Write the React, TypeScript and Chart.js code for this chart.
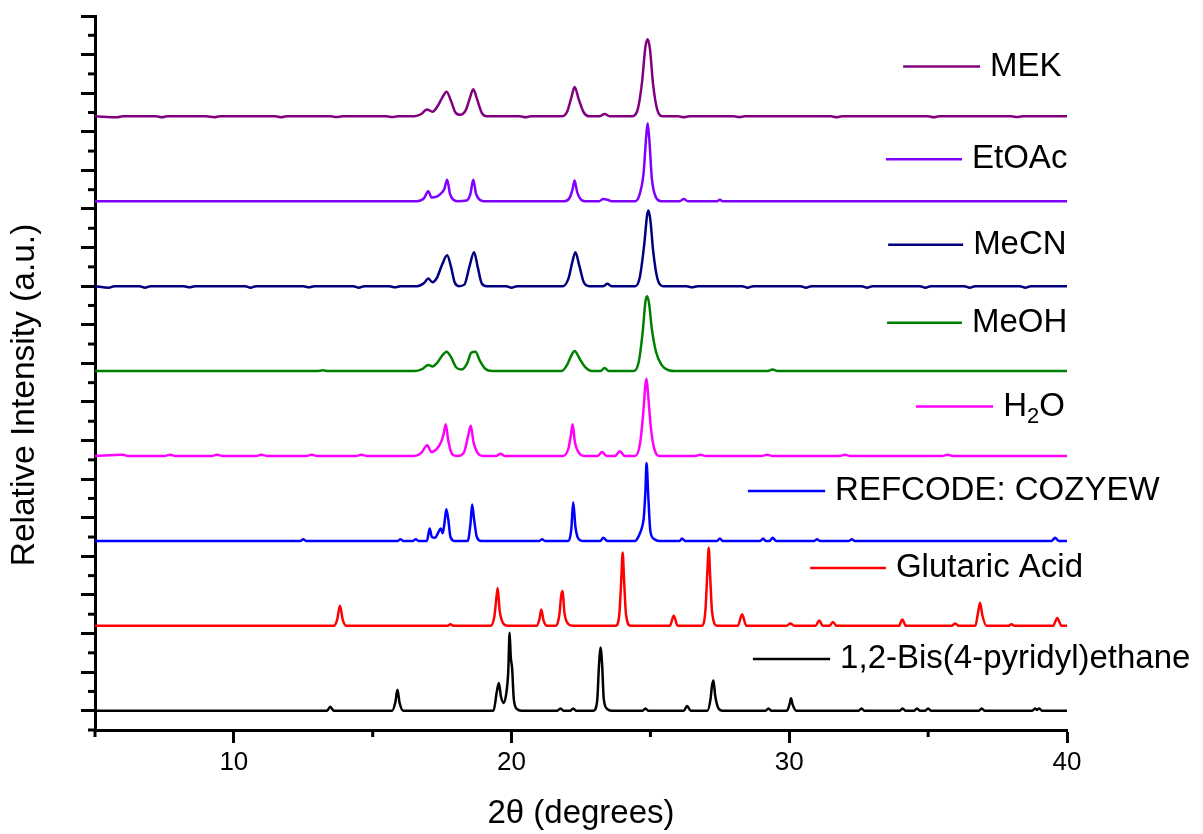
import React, { useEffect, useRef } from 'react';
import { Chart, registerables } from 'chart.js';

Chart.register(...registerables);

// ---------- DATA ----------
const seriesNames = [
  'MEK',
  'EtOAc',
  'MeCN',
  'MeOH',
  'H2O',
  'REFCODE: COZYEW',
  'Glutaric Acid',
  '1,2-Bis(4-pyridyl)ethane',
];
const seriesColors = ['#800080', '#8000FF', '#000080', '#008000', '#FF00FF', '#0000FF', '#FF0000', '#000000'];
// vertical stacking offset of each pattern (axis units)
const stackOffsets = [15.4, 13.2, 11.0, 8.8, 6.6, 4.4, 2.2, 0];
// relative intensity (%) -> axis units
const intensityScale = 0.02;

const xMajorTicks = [10, 20, 30, 40];
const xMinorTicks = [5, 15, 25, 35];
const yMajorTicks = [0, 1, 2, 3, 4, 5, 6, 7, 8, 9, 10, 11, 12, 13, 14, 15, 16, 17, 18];
const yMinorTicks = [-0.5, 0.5, 1.5, 2.5, 3.5, 4.5, 5.5, 6.5, 7.5, 8.5, 9.5, 10.5, 11.5, 12.5, 13.5, 14.5, 15.5, 16.5, 17.5];

// [2theta, relative intensity %]
const mekPattern: [number, number][] = [
  [5, 0], [5.8, -1.2], [6.0, 0], [7.2, 0], [7.4, -1.2], [7.6, 0], [9.0, 0], [9.3, -1.2], [9.5, 0],
  [11.5, 0], [11.7, -1.2], [11.9, 0], [13.5, 0], [13.7, -1], [13.9, 0], [15.5, 0], [15.7, -1], [15.9, 0],
  [16.5, 0], [16.75, 3], [16.95, 9], [17.15, 6], [17.35, 14], [17.5, 24], [17.66, 32], [17.82, 20],
  [17.98, 5], [18.15, 2], [18.35, 8], [18.5, 24], [18.62, 35], [18.76, 22], [18.92, 5], [19.1, 0],
  [20.3, 0], [20.5, -1.2], [20.7, 0], [21.8, 0], [22.0, 6], [22.15, 24], [22.27, 38], [22.42, 22],
  [22.6, 5], [22.8, 0], [23.15, 0], [23.35, 3], [23.55, 0], [24.35, 0], [24.55, 10], [24.7, 45],
  [24.82, 90], [24.9, 100], [24.98, 88], [25.1, 40], [25.25, 8], [25.45, 0], [26.0, 0], [26.2, -1.2],
  [26.4, 0], [28.0, 0], [28.2, -1], [28.4, 0], [31.5, 0], [31.7, -1.2], [31.9, 0], [35.0, 0],
  [35.2, -1.2], [35.4, 0], [38.0, 0], [38.2, -1], [38.4, 0], [40, 0],
];
const etoacPattern: [number, number][] = [
  [5, 0], [16.6, 0], [16.85, 4], [17.0, 13], [17.12, 5], [17.3, 6], [17.45, 10], [17.58, 16],
  [17.68, 28], [17.78, 10], [17.9, 2], [18.05, 0], [18.38, 1], [18.52, 10], [18.62, 28], [18.72, 10],
  [18.85, 2], [19.0, 0], [21.9, 0], [22.1, 5], [22.2, 16], [22.27, 27], [22.36, 12], [22.5, 2],
  [22.65, 0], [23.15, 0], [23.3, 3], [23.45, 2], [23.6, 0], [24.45, 0], [24.62, 10], [24.75, 35],
  [24.85, 85], [24.9, 101], [24.96, 80], [25.05, 30], [25.2, 5], [25.4, 0], [26.05, 0], [26.2, 3],
  [26.35, 0], [27.4, 0], [27.5, 2], [27.6, 0], [40, 0],
];
const mecnPattern: [number, number][] = [
  [5, 0], [5.5, -2], [5.7, 0], [6.6, 0], [6.8, -2], [7.0, 0], [8.2, 0], [8.4, -1.5], [8.6, 0],
  [10.4, 0], [10.6, -2], [10.8, 0], [12.5, 0], [12.7, -1.5], [12.9, 0], [14.3, 0], [14.5, -2],
  [14.7, 0], [15.6, 0], [15.8, -1.5], [16.0, 0], [16.6, 0], [16.85, 4], [17.0, 10], [17.15, 5],
  [17.3, 10], [17.5, 28], [17.68, 40], [17.82, 25], [17.95, 5], [18.1, 0], [18.3, 2], [18.48, 25],
  [18.65, 44], [18.78, 25], [18.92, 4], [19.1, 0], [19.8, 0], [20.0, -2], [20.2, 0], [21.85, 0],
  [22.05, 10], [22.18, 30], [22.3, 44], [22.43, 28], [22.6, 5], [22.8, 0], [23.3, 0], [23.45, 3],
  [23.6, 0], [24.45, 0], [24.62, 12], [24.78, 55], [24.88, 92], [24.93, 98], [25.0, 85], [25.1, 45],
  [25.25, 10], [25.45, 0], [26.3, 0], [26.5, -1.5], [26.7, 0], [28.3, 0], [28.5, -2], [28.7, 0],
  [30.4, 0], [30.6, -2], [30.8, 0], [32.6, 0], [32.8, -2], [33.0, 0], [34.7, 0], [34.9, -2],
  [35.1, 0], [36.3, 0], [36.5, -2], [36.7, 0], [38.3, 0], [38.5, -2], [38.7, 0], [40, 0],
];
const meohPattern: [number, number][] = [
  [5, 0], [13.0, 0], [13.2, 1], [13.4, 0], [16.5, 0], [16.8, 3], [17.0, 8], [17.15, 6], [17.35, 12],
  [17.5, 20], [17.66, 25], [17.82, 18], [18.0, 5], [18.2, 2], [18.4, 10], [18.55, 24], [18.7, 25],
  [18.85, 14], [19.05, 3], [19.3, 0], [21.8, 0], [22.0, 8], [22.15, 20], [22.27, 26], [22.45, 16],
  [22.65, 5], [22.9, 0], [23.2, 0], [23.35, 4], [23.5, 0], [24.4, 0], [24.58, 12], [24.72, 50],
  [24.82, 90], [24.88, 97], [24.95, 88], [25.05, 55], [25.2, 25], [25.4, 8], [25.65, 1], [25.9, 0],
  [29.2, 0], [29.4, 2], [29.6, 0], [40, 0],
];
const waterPattern: [number, number][] = [
  [5, 0], [6.0, 1.5], [6.2, 0], [7.5, 0], [7.7, 1.5], [7.9, 0], [9.2, 0], [9.4, 1.5], [9.6, 0],
  [10.8, 0], [11.0, 1.5], [11.2, 0], [12.6, 0], [12.8, 1.5], [13.0, 0], [14.4, 0], [14.6, 1.5],
  [14.8, 0], [16.5, 0], [16.75, 4], [16.96, 14], [17.12, 5], [17.3, 9], [17.45, 17], [17.55, 28],
  [17.63, 41], [17.72, 20], [17.85, 3], [18.05, 0], [18.28, 4], [18.43, 25], [18.53, 39], [18.63, 18],
  [18.8, 3], [19.0, 0], [19.45, 0], [19.6, 3], [19.75, 0], [21.85, 0], [22.05, 10], [22.14, 28],
  [22.2, 41], [22.28, 18], [22.45, 3], [22.65, 0], [23.1, 0], [23.26, 5], [23.42, 0], [23.72, 0],
  [23.9, 6], [24.08, 0], [24.45, 0], [24.62, 15], [24.74, 55], [24.82, 92], [24.86, 100], [24.92, 78],
  [25.02, 35], [25.15, 8], [25.35, 0], [26.6, 0], [26.8, 1.5], [27.0, 0], [29.0, 0], [29.2, 1.5],
  [29.4, 0], [31.8, 0], [32.0, 1.5], [32.2, 0], [35.5, 0], [35.7, 1.5], [35.9, 0], [40, 0],
];
const cozyewPattern: [number, number][] = [
  [5, 0], [12.4, 0], [12.5, 2], [12.6, 0], [15.9, 0], [16.0, 2], [16.1, 0], [16.45, 0], [16.55, 2],
  [16.65, 0], [16.95, 0], [17.05, 16], [17.13, 5], [17.25, 4], [17.35, 10], [17.45, 16], [17.52, 10],
  [17.58, 22], [17.65, 41], [17.72, 28], [17.8, 5], [17.95, 0], [18.42, 0], [18.52, 22], [18.58, 47],
  [18.65, 28], [18.75, 5], [18.9, 0], [21.0, 0], [21.1, 2], [21.2, 0], [22.05, 0], [22.15, 15],
  [22.22, 50], [22.3, 18], [22.42, 2], [22.55, 0], [23.2, 0], [23.3, 4], [23.45, 0], [24.45, 0],
  [24.6, 8], [24.7, 18], [24.76, 30], [24.82, 65], [24.86, 101], [24.92, 60], [25.0, 12], [25.15, 2],
  [25.3, 0], [26.05, 0], [26.14, 3], [26.25, 0], [27.4, 0], [27.5, 3], [27.6, 0], [28.95, 0],
  [29.06, 3], [29.15, 0], [29.3, 0], [29.4, 4], [29.52, 0], [30.9, 0], [31.0, 2], [31.1, 0],
  [32.15, 0], [32.25, 2], [32.35, 0], [39.45, 0], [39.57, 4], [39.7, 0], [40, 0],
];
const glutaricPattern: [number, number][] = [
  [5, 0], [13.6, 0], [13.72, 8], [13.82, 26], [13.92, 8], [14.05, 0], [17.7, 0], [17.8, 2], [17.9, 0],
  [19.25, 0], [19.38, 12], [19.45, 35], [19.5, 49], [19.57, 20], [19.7, 3], [19.85, 0], [20.9, 0],
  [21.0, 8], [21.07, 21], [21.15, 7], [21.28, 0], [21.6, 0], [21.72, 14], [21.79, 40], [21.84, 45],
  [21.9, 18], [22.05, 2], [22.2, 0], [23.75, 0], [23.88, 15], [23.95, 60], [24.0, 95], [24.05, 60],
  [24.12, 15], [24.28, 0], [25.7, 0], [25.84, 13], [25.98, 0], [26.85, 0], [26.98, 20], [27.05, 70],
  [27.1, 101], [27.15, 65], [27.22, 18], [27.4, 0], [28.15, 0], [28.3, 15], [28.45, 0], [29.9, 0],
  [30.04, 3], [30.18, 0], [30.95, 0], [31.08, 7], [31.2, 0], [31.45, 0], [31.57, 5], [31.7, 0],
  [33.95, 0], [34.07, 8], [34.2, 0], [35.85, 0], [35.97, 3], [36.1, 0], [36.7, 0], [36.8, 18],
  [36.87, 30], [36.95, 14], [37.1, 0], [37.9, 0], [38.0, 2], [38.1, 0], [39.5, 0], [39.65, 10],
  [39.8, 0], [40, 0],
];
const bpePattern: [number, number][] = [
  [5, 0], [13.35, 0], [13.47, 5], [13.6, 0], [15.7, 0], [15.82, 12], [15.89, 27], [15.97, 10],
  [16.1, 0], [19.35, 0], [19.47, 25], [19.54, 36], [19.62, 18], [19.72, 10], [19.82, 25], [19.88, 50],
  [19.93, 101], [19.97, 70], [20.02, 55], [20.08, 15], [20.2, 2], [20.35, 0], [21.65, 0], [21.76, 3],
  [21.87, 0], [22.12, 0], [22.22, 3], [22.32, 0], [22.95, 0], [23.08, 12], [23.15, 60], [23.2, 82],
  [23.26, 60], [23.32, 15], [23.45, 2], [23.6, 0], [24.72, 0], [24.82, 3], [24.92, 0], [26.2, 0],
  [26.32, 6], [26.45, 0], [27.05, 0], [27.16, 14], [27.22, 33], [27.27, 39], [27.33, 20], [27.45, 3],
  [27.6, 0], [29.15, 0], [29.25, 3], [29.35, 0], [29.92, 0], [30.02, 10], [30.06, 16], [30.12, 8],
  [30.25, 0], [32.5, 0], [32.6, 3], [32.7, 0], [33.98, 0], [34.08, 3], [34.18, 0], [34.5, 0],
  [34.6, 3], [34.7, 0], [34.9, 0], [35.0, 3], [35.1, 0], [36.83, 0], [36.93, 3], [37.03, 0],
  [38.75, 0], [38.85, 3], [38.92, 1], [39.0, 3], [39.1, 0], [40, 0],
];
const patterns = [mekPattern, etoacPattern, mecnPattern, meohPattern, waterPattern, cozyewPattern, glutaricPattern, bpePattern];

// legend key placement, in data coordinates: [line start 2θ, line end 2θ, y]
const legendKeys: [number, number, number][] = [
  [34.1, 36.87, 16.69],
  [33.48, 36.22, 14.29],
  [33.56, 36.26, 12.07],
  [33.52, 36.22, 10.05],
  [34.56, 37.34, 7.88],
  [28.51, 31.29, 5.69],
  [30.75, 33.48, 3.7],
  [28.69, 31.47, 1.34],
];

const FONT = '"Liberation Sans", Arial, Helvetica, sans-serif';

const decorPlugin = {
  id: 'decor',
  afterDraw(chart: any) {
    const { ctx, chartArea } = chart;
    const xs = chart.scales.x;
    const ys = chart.scales.y;
    ctx.save();
    // minor ticks
    ctx.strokeStyle = '#000';
    ctx.lineWidth = 3;
    xMinorTicks.forEach((v) => {
      const px = xs.getPixelForValue(v);
      ctx.beginPath();
      ctx.moveTo(px, chartArea.bottom);
      ctx.lineTo(px, chartArea.bottom + 7);
      ctx.stroke();
    });
    yMinorTicks.forEach((v) => {
      const py = ys.getPixelForValue(v);
      ctx.beginPath();
      ctx.moveTo(chartArea.left, py);
      ctx.lineTo(chartArea.left - 7, py);
      ctx.stroke();
    });

    // y-axis title
    ctx.save();
    ctx.translate(25, ys.getPixelForValue(8.18));
    ctx.rotate(-Math.PI / 2);
    ctx.fillStyle = '#000';
    ctx.font = `33.5px ${FONT}`;
    ctx.textAlign = 'center';
    ctx.textBaseline = 'middle';
    ctx.fillText('Relative Intensity (a.u.)', 0, 0);
    ctx.restore();

    // legend keys
    legendKeys.forEach(([x1, x2, yv], i) => {
      const p1 = xs.getPixelForValue(x1);
      const p2 = xs.getPixelForValue(x2);
      const py = ys.getPixelForValue(yv);
      ctx.strokeStyle = seriesColors[i];
      ctx.lineWidth = 2.5;
      ctx.beginPath();
      ctx.moveTo(p1, py);
      ctx.lineTo(p2, py);
      ctx.stroke();
      ctx.fillStyle = '#000';
      ctx.textAlign = 'left';
      ctx.textBaseline = 'middle';
      const tx = p2 + 10;
      const name = seriesNames[i];
      if (name === 'H2O') {
        ctx.font = `33px ${FONT}`;
        ctx.fillText('H', tx, py);
        const w1 = ctx.measureText('H').width;
        ctx.font = `22px ${FONT}`;
        ctx.fillText('2', tx + w1, py + 10);
        const w2 = ctx.measureText('2').width;
        ctx.font = `33px ${FONT}`;
        ctx.fillText('O', tx + w1 + w2, py);
      } else {
        ctx.font = `33px ${FONT}`;
        ctx.fillText(name, tx, py);
      }
    });
    ctx.restore();
  },
};

export default function App() {
  const canvasRef = useRef<HTMLCanvasElement | null>(null);

  useEffect(() => {
    const canvas = canvasRef.current;
    if (!canvas) return;
    const datasets = patterns.map((pat, i) => ({
      label: seriesNames[i],
      data: pat.map(([x, y]) => ({ x, y: stackOffsets[i] + y * intensityScale })),
      borderColor: seriesColors[i],
      backgroundColor: seriesColors[i],
      borderWidth: 2.5,
      pointRadius: 0,
      fill: false,
      cubicInterpolationMode: 'monotone' as const,
    }));

    const chart = new Chart(canvas, {
      type: 'line',
      data: { datasets },
      plugins: [decorPlugin],
      options: {
        animation: false,
        responsive: false,
        maintainAspectRatio: false,
        devicePixelRatio: 1,
        layout: { padding: { left: 0, right: 136, top: 16, bottom: 0 } },
        plugins: { legend: { display: false }, tooltip: { enabled: false } },
        scales: {
          x: {
            type: 'linear',
            min: 5,
            max: 40,
            afterBuildTicks: (scale: any) => {
              scale.ticks = xMajorTicks.map((v) => ({ value: v }));
            },
            afterFit: (scale: any) => {
              scale.height = 104;
            },
            ticks: {
              color: '#000',
              font: { family: FONT, size: 26 },
              padding: 4,
              maxRotation: 0,
            },
            grid: {
              display: true,
              drawOnChartArea: false,
              drawTicks: true,
              tickLength: 13,
              tickWidth: 3,
              tickColor: '#000',
            },
            border: { display: true, color: '#000', width: 3 },
            title: {
              display: true,
              text: '2θ (degrees)',
              color: '#000',
              font: { family: FONT, size: 33 },
              padding: { top: 0, bottom: 0 },
            },
          },
          y: {
            type: 'linear',
            min: -0.5,
            max: 18,
            afterBuildTicks: (scale: any) => {
              scale.ticks = yMajorTicks.map((v) => ({ value: v }));
            },
            afterFit: (scale: any) => {
              scale.width = 95;
            },
            ticks: { display: false },
            grid: {
              display: true,
              drawOnChartArea: false,
              drawTicks: true,
              tickLength: 14,
              tickWidth: 3,
              tickColor: '#000',
            },
            border: { display: true, color: '#000', width: 3 },
          },
        },
      },
    });
    return () => chart.destroy();
  }, []);

  return (
    <div style={{ position: 'fixed', left: 0, top: 0, width: 1203, height: 834, background: '#fff' }}>
      <canvas ref={canvasRef} width={1203} height={834} style={{ display: 'block' }} />
    </div>
  );
}
